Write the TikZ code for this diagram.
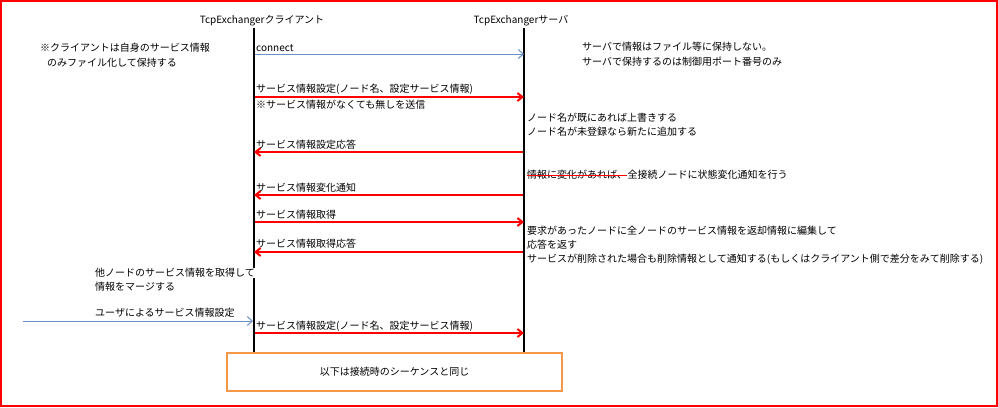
\documentclass[tikz,border=0pt]{standalone}
\usepackage{fontspec}
\setmainfont{Noto Sans CJK JP}
\usetikzlibrary{arrows.meta,positioning}
\definecolor{msgblue}{RGB}{105,145,200}
\definecolor{boxorange}{RGB}{247,150,70}
\begin{document}
\begin{tikzpicture}[x=1pt,y=-1pt,
		lbl/.style={anchor=west,inner sep=0pt,font=\fontsize{10}{12}\selectfont},
		req/.style={red,line width=2pt,-{Straight Barb[length=5pt,width=8pt]}},
		usr/.style={msgblue,line width=1pt,-{Straight Barb[length=5pt,width=9pt]}},
		life/.style={black,line width=2pt}]
		\useasboundingbox (0,0) rectangle (998,407);
		\draw [red,line width=2pt] (1,1) rectangle (997,406);
		\node (h1) at (262,21) [font=\fontsize{10}{12}\selectfont] {TcpExchangerクライアント};
		\node (h2) at (521,21) [font=\fontsize{10}{12}\selectfont] {TcpExchangerサーバ};
		\coordinate (v1) at (254,28);
		\coordinate (v2) at (254,353);
		\coordinate (v3) at (524,28);
		\coordinate (v4) at (524,353);
		\draw [life] (v1) -- (v2);
		\draw [life] (v3) -- (v4);
		\node (n1) at (40,48) [lbl] {※クライアントは自身のサービス情報};
		\node (n2) at (47,63) [lbl] {のみファイル化して保持する};
		\node (n3) at (582,47) [lbl] {サーバで情報はファイル等に保持しない。};
		\node (n4) at (582,62) [lbl] {サーバで保持するのは制御用ポート番号のみ};
		\coordinate (c1) at (255,54);
		\coordinate (s1) at (524,54);
		\draw [usr] (c1) -- (s1);
		\node (m1) at (256,48) [lbl] {connect};
		\coordinate (c2) at (255,97);
		\coordinate (s2) at (524,97);
		\draw [req] (c2) -- (s2);
		\node (m2) at (256,89) [lbl] {サービス情報設定(ノード名、設定サービス情報)};
		\node (m3) at (256,105) [lbl] {※サービス情報がなくても無しを送信};
		\node (n5) at (527,118) [lbl] {ノード名が既にあれば上書きする};
		\node (n6) at (527,132) [lbl] {ノード名が未登録なら新たに追加する};
		\coordinate (c3) at (254,152);
		\coordinate (s3) at (523,152);
		\draw [req] (s3) -- (c3);
		\node (m4) at (256,145) [lbl] {サービス情報設定応答};
		\node (n7) at (527,175) [lbl] {情報に変化があれば、};
		\node (n8) [lbl,right=0pt of n7] {全接続ノードに状態変化通知を行う};
		\draw [red,line width=1pt] (n7.west) -- (n7.east);
		\coordinate (c4) at (254,195);
		\coordinate (s4) at (523,195);
		\draw [req] (s4) -- (c4);
		\node (m5) at (256,188) [lbl] {サービス情報変化通知};
		\coordinate (c5) at (255,222);
		\coordinate (s5) at (524,222);
		\draw [req] (c5) -- (s5);
		\node (m6) at (256,215) [lbl] {サービス情報取得};
		\coordinate (c6) at (254,252);
		\coordinate (s6) at (523,252);
		\draw [req] (s6) -- (c6);
		\node (m7) at (256,244) [lbl] {サービス情報取得応答};
		\node (n9) at (527,231) [lbl] {要求があったノードに全ノードのサービス情報を返却情報に編集して};
		\node (n10) at (527,245) [lbl] {応答を返す};
		\node (n11) at (527,259) [lbl] {サービスが削除された場合も削除情報として通知する(もしくはクライアント側で差分をみて削除する)};
		\node (n12) at (95,273) [lbl,fill=white] {他ノードのサービス情報を取得して};
		\node (n13) at (95,287) [lbl] {情報をマージする};
		\coordinate (u1) at (23,321);
		\coordinate (c7) at (253,321);
		\draw [usr] (u1) -- (c7);
		\node (m8) at (95,313) [lbl] {ユーザによるサービス情報設定};
		\coordinate (c8) at (255,333);
		\coordinate (s8) at (524,333);
		\draw [req] (c8) -- (s8);
		\node (m9) at (256,326) [lbl] {サービス情報設定(ノード名、設定サービス情報)};
		\node (b1) at (394.5,372) [draw=boxorange,line width=1.5pt,fill=white,minimum width=335pt,minimum height=38pt,font=\fontsize{10}{12}\selectfont] {以下は接続時のシーケンスと同じ};
\end{tikzpicture}
\end{document}
